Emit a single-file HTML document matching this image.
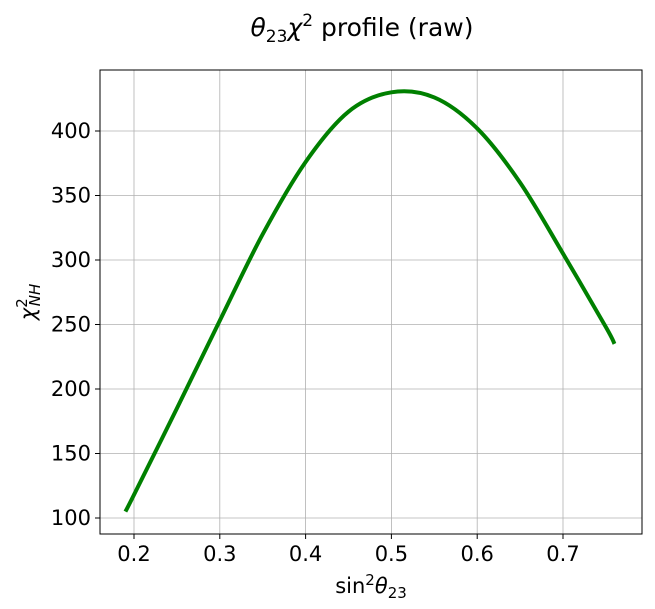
<!DOCTYPE html>
<html><head><meta charset="utf-8"><style>
html,body{margin:0;padding:0;background:#fff;width:655px;height:609px;overflow:hidden}
svg text{font-family:"DejaVu Sans","Liberation Sans",sans-serif;fill:#000}
</style></head><body>
<svg id="chart" width="655" height="609" xmlns="http://www.w3.org/2000/svg">
<text x="362" y="36" text-anchor="middle" font-size="25"><tspan font-style="italic">θ</tspan><tspan font-size="17" dy="6">23</tspan><tspan font-style="italic" dy="-6">χ</tspan><tspan font-size="17" dy="-10">2</tspan><tspan dy="10"> profile (raw)</tspan></text>
<g id="grid"></g>
<g id="ticks"></g>
<path id="curve" fill="none" stroke="#008000" stroke-width="4" stroke-linejoin="round"/>
<rect x="100" y="70" width="542" height="464" fill="none" stroke="#000" stroke-width="1"/>
<text x="371" y="593" text-anchor="middle" font-size="21">sin<tspan font-size="15" dy="-8">2</tspan><tspan font-style="italic" dy="8">θ</tspan><tspan font-size="15" dy="5">23</tspan></text>
<text transform="translate(35,302) rotate(-90)" text-anchor="middle" font-size="21"><tspan font-style="italic">χ</tspan><tspan font-size="15" dy="-8">2</tspan><tspan font-size="15" font-style="italic" dy="13" dx="-8">NH</tspan></text>
</svg>
<script>
const xTicks=[0.2,0.3,0.4,0.5,0.6,0.7];
const xTickLabels=["0.2","0.3","0.4","0.5","0.6","0.7"];
const yTicks=[100,150,200,250,300,350,400];
const yTickLabels=["100","150","200","250","300","350","400"];
const xs=[0.19,0.2,0.25,0.3,0.35,0.4,0.45,0.5,0.55,0.6,0.65,0.7,0.75,0.76];
const ys=[105,118,185,253,320,376,415,430,426,402,360,305,248,235];
const L=100,R=642,T=70,B=534;
function sx(v){return 134+(v-0.2)*858;}
function sy(v){return 518-(v-100)*1.29;}
const NS="http://www.w3.org/2000/svg";
const grid=document.getElementById('grid'),ticks=document.getElementById('ticks');
function mk(tag,attrs,parent){const e=document.createElementNS(NS,tag);for(const k in attrs)e.setAttribute(k,attrs[k]);parent.appendChild(e);return e;}
xTicks.forEach((v,i)=>{const x=sx(v);
 const g=mk('line',{x1:x,x2:x,y1:T,y2:B,stroke:'#b0b0b0','stroke-width':0.8},grid);
 
 
 const t=mk('line',{x1:x,x2:x,y1:B,y2:B+5,stroke:'#000'},ticks);
 
 
 const l=mk('text',{x:x,y:B+27,'text-anchor':'middle','font-size':21},ticks);l.textContent=xTickLabels[i];
 
 
});
yTicks.forEach((v,i)=>{const y=sy(v);
 const g=mk('line',{x1:L,x2:R,y1:y,y2:y,stroke:'#b0b0b0','stroke-width':0.8},grid);
 
 
 const t=mk('line',{x1:L-5,x2:L,y1:y,y2:y,stroke:'#000'},ticks);
 
 
 const l=mk('text',{x:L-9,y:y+7,'text-anchor':'end','font-size':21},ticks);l.textContent=yTickLabels[i];
 
 
});
const P=xs.map((x,i)=>[sx(x),sy(ys[i])]);
let d='M'+P[0][0]+','+P[0][1];
for(let i=0;i<P.length-1;i++){const p0=P[i-1]||P[i],p1=P[i],p2=P[i+1],p3=P[i+2]||P[i+1];
 const c1=[p1[0]+(p2[0]-p0[0])/6,p1[1]+(p2[1]-p0[1])/6],c2=[p2[0]-(p3[0]-p1[0])/6,p2[1]-(p3[1]-p1[1])/6];
 d+=' C'+c1+' '+c2+' '+p2;}
document.getElementById('curve').setAttribute('d',d);
</script>
</body></html>
